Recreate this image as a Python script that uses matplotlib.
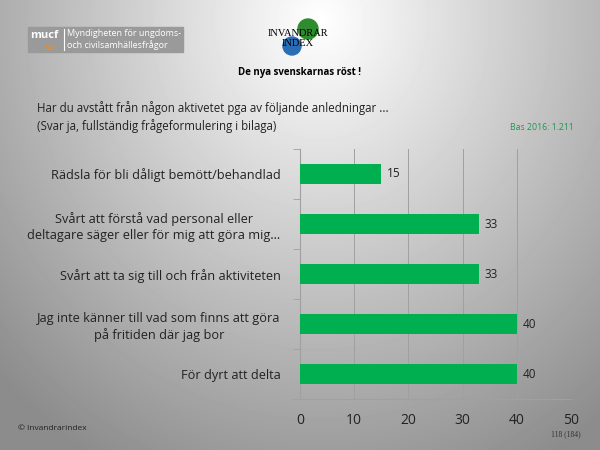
import numpy as np
import matplotlib.pyplot as plt
from matplotlib.patches import Rectangle, Circle

categories = [
    'För dyrt att delta',
    'Jag inte känner till vad som finns att göra\npå fritiden där jag bor',
    'Svårt att ta sig till och från aktiviteten',
    'Svårt att förstå vad personal eller\ndeltagare säger eller för mig att göra mig...',
    'Rädsla för bli dåligt bemött/behandlad',
]
values = [40, 40, 33, 33, 15]
xticks = [0, 10, 20, 30, 40, 50]

GREEN = '#00B050'
FONT = ['Open Sans', 'DejaVu Sans']


def background(fig):
    bg = fig.add_axes([0, 0, 1, 1], zorder=-10)
    yy, xx = np.mgrid[0:450, 0:600]
    d = np.sqrt(((xx - 320) / 420.0) ** 2 + ((yy - 20) / 470.0) ** 2)
    shade = np.clip(1.0 - 0.42 * d, 0.55, 1.0)
    bg.imshow(shade, cmap='gray', vmin=0, vmax=1, extent=[0, 600, 450, 0], aspect='auto')
    bg.set_xlim(0, 600)
    bg.set_ylim(450, 0)
    bg.axis('off')
    return bg


def logos(bg):
    # mucf logo
    bg.add_patch(Rectangle((28, 27), 155, 25, color='#9a9a9a'))
    bg.text(30, 35, 'mucf', color='white', fontsize=8, fontweight='bold', va='center', family=FONT)
    bg.text(44, 47.5, '.se', color='#f08a24', fontsize=6.3, fontweight='bold', va='center', family=FONT)
    bg.plot([64, 64], [29, 50], color='white', lw=0.8)
    bg.text(67, 33, 'Myndigheten för ungdoms-', color='white', fontsize=6.5, va='center', family=FONT)
    bg.text(67, 45, 'och civilsamhällesfrågor', color='white', fontsize=6.5, va='center', family=FONT)
    # Invandrarindex logo
    bg.add_patch(Circle((308, 29), 10, color='#2e8b2e'))
    bg.add_patch(Circle((292, 46), 9, color='#2a6db5'))
    bg.text(298, 33, 'INVANDRAR', fontsize=7.5, family='Liberation Serif', ha='center', va='center', zorder=5)
    bg.text(298, 43, 'INDEX', fontsize=7.5, family='Liberation Serif', ha='center', va='center', zorder=5)
    bg.text(300, 73, 'De nya svenskarnas röst !', fontsize=7, fontweight='bold', ha='center', va='center', family=FONT)
    bg.text(37, 117, 'Har du avstått från någon aktivetet pga av följande anledningar ...\n(Svar ja, fullständig frågeformulering i bilaga)',
            fontsize=8.3, va='center', linespacing=1.45, color='#222222', family=FONT)
    bg.text(510, 127, 'Bas 2016: 1.211', fontsize=6.3, color='#1a9a50', va='center', family=FONT)
    bg.text(18, 429, '© Invandrarindex', fontsize=6, va='center', color='#222222', family=FONT)
    bg.text(566, 434, '118 (184)', fontsize=5.5, va='center', ha='center', family='Liberation Serif', color='#333333')


def plot():
    fig = plt.figure(figsize=(6, 4.5), dpi=100)
    bg = background(fig)
    logos(bg)

    ax = fig.add_axes([0.5, 0.113, 0.452, 0.556])
    ax.patch.set_alpha(0)
    y = np.arange(len(categories))
    ax.barh(y, values, height=0.4, color=GREEN, zorder=3)
    for yi, v in zip(y, values):
        ax.text(v + 1, yi, str(v), va='center', fontsize=8.5, color='#222222', family=FONT)

    ax.set_xlim(0, 50)
    ax.set_ylim(-0.5, len(categories) - 0.5)
    ax.set_xticks(xticks)
    ax.set_xticklabels([str(t) for t in xticks], fontsize=10, family=FONT, color='#222222')
    ax.set_yticks(y)
    ax.set_yticklabels(categories, fontsize=9.2, family=FONT, color='#222222',
                       linespacing=1.3, multialignment='center')
    ax.tick_params(axis='y', length=0, pad=14)
    ax.tick_params(axis='x', length=0, pad=10)
    ax.set_yticks(np.arange(-0.5, len(categories), 1), minor=True)
    ax.tick_params(axis='y', which='minor', length=5, color='#a0a0a0')
    ax.grid(axis='x', color='#a0a0a0', lw=0.7, zorder=0)
    for s in ['top', 'right']:
        ax.spines[s].set_visible(False)
    ax.spines['left'].set_color('#a0a0a0')
    ax.spines['bottom'].set_color('#a0a0a0')

    fig.savefig('out.png', dpi=100)


if __name__ == '__main__':
    plot()
